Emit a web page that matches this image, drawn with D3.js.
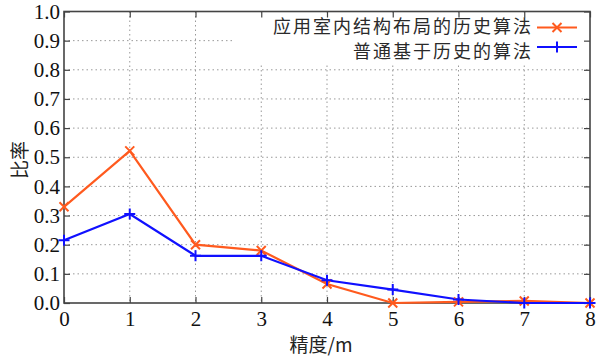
<!DOCTYPE html>
<html><head><meta charset="utf-8">
<script src="https://cdn.jsdelivr.net/npm/d3@7"></script>
<style>body{margin:0;background:#fff}svg{display:block}</style>
</head><body>
<svg id="c" width="602" height="356"></svg>
<script>
const xValues = [0,1,2,3,4,5,6,7,8];
const seriesNames = ["应用室内结构布局的历史算法","普通基于历史的算法"];
const seriesA = [0.33,0.522,0.2,0.18,0.065,0.0,0.004,0.007,0.0];
const seriesB = [0.215,0.305,0.162,0.162,0.078,0.046,0.012,0.0,0.0];
const yTicks = [0,0.1,0.2,0.3,0.4,0.5,0.6,0.7,0.8,0.9,1.0];
const xTicks = [0,1,2,3,4,5,6,7,8];
const xLabel = "精度/m", yLabel = "比率";

const svg = d3.select("#c");
const L=64,R=590,T=11.5,B=303;
const x = d3.scaleLinear().domain([0,8]).range([L,R]);
const y = d3.scaleLinear().domain([0,1]).range([B,T]);
const serif = "Liberation Serif";
const cjk = "Noto Sans CJK SC";
const axisCol = "#444";

// grid
const g = svg.append("g");
g.selectAll(".gx").data(xTicks.slice(1,-1)).enter().append("line")
 .attr("x1",d=>x(d)).attr("x2",d=>x(d)).attr("y1",T).attr("y2",B)
 .attr("stroke","#999").attr("stroke-width",1).attr("stroke-dasharray","1.5,3");
g.selectAll(".gy").data(yTicks.slice(1,-1)).enter().append("line")
 .attr("x1",L).attr("x2",R).attr("y1",d=>y(d)).attr("y2",d=>y(d))
 .attr("stroke","#999").attr("stroke-width",1).attr("stroke-dasharray","1.5,3");

// legend background
svg.append("rect").attr("x",232).attr("y",T+1).attr("width",R-233).attr("height",51).attr("fill","#fff");

// axes
const ax = svg.append("g").attr("transform",`translate(0,${B})`)
 .call(d3.axisBottom(x).tickValues(xTicks).tickFormat(d3.format("d")).tickSizeInner(-6).tickSizeOuter(0).tickPadding(10));
const ay = svg.append("g").attr("transform",`translate(${L},0)`)
 .call(d3.axisLeft(y).tickValues(yTicks).tickFormat(d3.format(".1f")).tickSizeInner(-6).tickSizeOuter(0).tickPadding(4));
const axT = svg.append("g").attr("transform",`translate(0,${T})`)
 .call(d3.axisTop(x).tickValues(xTicks).tickFormat("").tickSizeInner(-6).tickSizeOuter(0));
const ayR = svg.append("g").attr("transform",`translate(${R},0)`)
 .call(d3.axisRight(y).tickValues(yTicks).tickFormat("").tickSizeInner(-6).tickSizeOuter(0));
[ax,ay,axT,ayR].forEach(a=>{
  a.attr("font-family",serif).attr("font-size",21);
  a.select(".domain").remove();
  a.selectAll("line").attr("stroke",axisCol).attr("stroke-width",1.2);
  a.selectAll("text").attr("fill","#111").attr("font-family",serif).attr("font-size",21);
});
ax.selectAll("text").attr("y",23).attr("dy",0);
ay.selectAll("text").attr("dy","0.32em");

svg.append("rect").attr("x",L).attr("y",T).attr("width",R-L).attr("height",B-T)
 .attr("fill","none").attr("stroke",axisCol).attr("stroke-width",1.6);

// series
const colors = ["#ff5a1e","#1010ff"];
const data = [seriesA,seriesB];
const line = d3.line().x((d,i)=>x(xValues[i])).y(d=>y(d));
data.forEach((s,k)=>{
  svg.append("path").datum(s).attr("d",line).attr("fill","none")
   .attr("stroke",colors[k]).attr("stroke-width",2.2).attr("stroke-linejoin","miter");
});
function marker(sel,k,cx,cy){
  if(k===0){
    const r=4.5;
    sel.append("path").attr("d",`M${cx-r},${cy-r}L${cx+r},${cy+r}M${cx-r},${cy+r}L${cx+r},${cy-r}`)
     .attr("stroke",colors[k]).attr("stroke-width",2).attr("fill","none");
  } else {
    const r=5.5;
    sel.append("path").attr("d",`M${cx-r},${cy}L${cx+r},${cy}M${cx},${cy-r}L${cx},${cy+r}`)
     .attr("stroke",colors[k]).attr("stroke-width",2).attr("fill","none");
  }
}
data.forEach((s,k)=>{ s.forEach((v,i)=>marker(svg,k,x(xValues[i]),y(v))); });

// legend
seriesNames.forEach((n,k)=>{
  const ty = 27 + k*24.5, ly = 27.5 + k*19.5;
  svg.append("text").attr("x",533).attr("y",ty).attr("dy","0.36em").attr("text-anchor","end")
   .attr("font-family",cjk).attr("font-size",18).attr("letter-spacing",2).attr("fill","#2a2a2a").text(n);
  svg.append("line").attr("x1",537).attr("x2",577).attr("y1",ly).attr("y2",ly)
   .attr("stroke",colors[k]).attr("stroke-width",2.2);
  marker(svg,k,557,ly);
});

// axis labels
svg.append("text").attr("x",(L+R)/2-6).attr("y",352).attr("text-anchor","middle")
 .attr("font-family",cjk).attr("font-size",19).attr("fill","#222").text(xLabel);
svg.append("text").attr("transform","translate(27,160) rotate(-90)").attr("text-anchor","middle")
 .attr("font-family",cjk).attr("font-size",19).attr("fill","#222").text(yLabel);
</script>
</body></html>
